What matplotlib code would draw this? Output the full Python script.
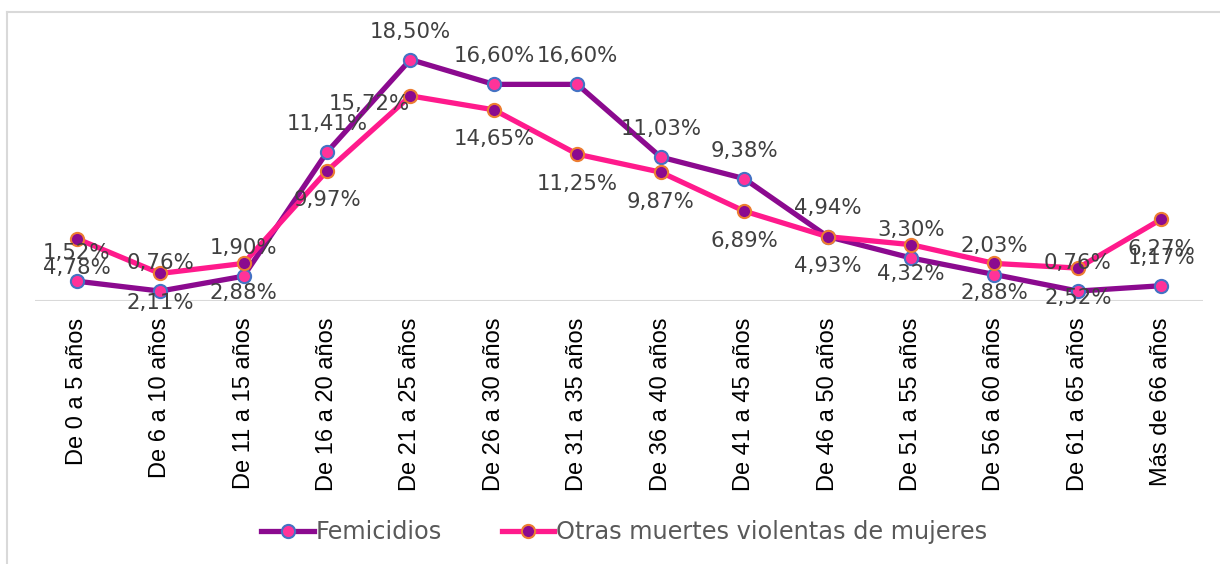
import numpy as np
import matplotlib
matplotlib.use('Agg')
import matplotlib.pyplot as plt
from matplotlib.lines import Line2D

# datos
categorias = ['De 0 a 5 años', 'De 6 a 10 años', 'De 11 a 15 años', 'De 16 a 20 años',
              'De 21 a 25 años', 'De 26 a 30 años', 'De 31 a 35 años', 'De 36 a 40 años',
              'De 41 a 45 años', 'De 46 a 50 años', 'De 51 a 55 años', 'De 56 a 60 años',
              'De 61 a 65 años', 'Más de 66 años']
femicidios = [1.52, 0.76, 1.90, 11.41, 18.50, 16.60, 16.60, 11.03, 9.38, 4.94, 3.30, 2.03, 0.76, 1.17]
otras = [4.78, 2.11, 2.88, 9.97, 15.72, 14.65, 11.25, 9.87, 6.89, 4.93, 4.32, 2.88, 2.52, 6.27]

c_fem = '#8B0A8F'
c_otr = '#FF1A8C'
c_lab = '#404040'

fig = plt.figure(figsize=(12.2, 5.64), dpi=100)
ax = fig.add_axes([35/1220, 1 - 301/564, (1203-35)/1220, (301-40)/564])

x = np.arange(len(categorias))
ax.plot(x, femicidios, '-o', color=c_fem, lw=3.8, markersize=9.5,
        markerfacecolor='#FF3399', markeredgecolor='#4472C4', markeredgewidth=1.5,
        label='Femicidios', zorder=3)
ax.plot(x, otras, '-o', color=c_otr, lw=3.8, markersize=9.5,
        markerfacecolor='#8B0A8F', markeredgecolor='#ED7D31', markeredgewidth=1.5,
        label='Otras muertes violentas de mujeres', zorder=3)

def fmt(v):
    return ('%.2f%%' % v).replace('.', ',')

# etiquetas: femicidios arriba, otras abajo
for i in range(len(x)):
    ax.annotate(fmt(femicidios[i]), (x[i], femicidios[i]), xytext=(0, 13),
                textcoords='offset points', ha='center', va='bottom',
                fontsize=15.3, color=c_lab, annotation_clip=False, zorder=4)
    if i == 4:
        # esta etiqueta queda a la izquierda del punto
        ax.annotate(fmt(otras[i]), (x[i], otras[i]), xytext=(-30, -6),
                    textcoords='offset points', ha='center', va='center',
                    fontsize=15.3, color=c_lab, annotation_clip=False, zorder=4)
    else:
        ax.annotate(fmt(otras[i]), (x[i], otras[i]), xytext=(0, -14),
                    textcoords='offset points', ha='center', va='top',
                    fontsize=15.3, color=c_lab, annotation_clip=False, zorder=4)

ax.set_xlim(-0.5, len(x) - 0.5)
ax.set_ylim(0, 20)
ax.axhline(0, color='#D9D9D9', lw=1.5, zorder=1)
for s in ax.spines.values():
    s.set_visible(False)
ax.set_yticks([])
ax.set_xticks(x)
ax.set_xticklabels(categorias, rotation=90, fontsize=17, family='Liberation Sans')
ax.tick_params(axis='x', length=0, pad=12)

h1 = Line2D([], [], color=c_fem, lw=3.8, marker='o', markersize=9.5,
            markerfacecolor='#FF3399', markeredgecolor='#4472C4', markeredgewidth=1.5)
h2 = Line2D([], [], color=c_otr, lw=3.8, marker='o', markersize=9.5,
            markerfacecolor='#8B0A8F', markeredgecolor='#ED7D31', markeredgewidth=1.5)
leg = fig.legend([h1, h2], ['Femicidios', 'Otras muertes violentas de mujeres'],
                 loc='center', bbox_to_anchor=(624/1220, 1 - 532/564), ncol=2,
                 frameon=False, fontsize=17.3, handlelength=2.2, handletextpad=0.05,
                 columnspacing=2.5)
for t in leg.get_texts():
    t.set_color('#595959')

# borde del grafico (solo arriba e izquierda visibles)
fig.add_artist(Line2D([7/1220, 1], [1 - 12/564, 1 - 12/564], transform=fig.transFigure,
                      color='#D9D9D9', lw=1.5))
fig.add_artist(Line2D([7/1220, 7/1220], [0, 1 - 12/564], transform=fig.transFigure,
                      color='#D9D9D9', lw=1.5))

fig.savefig('out.png', dpi=100)
